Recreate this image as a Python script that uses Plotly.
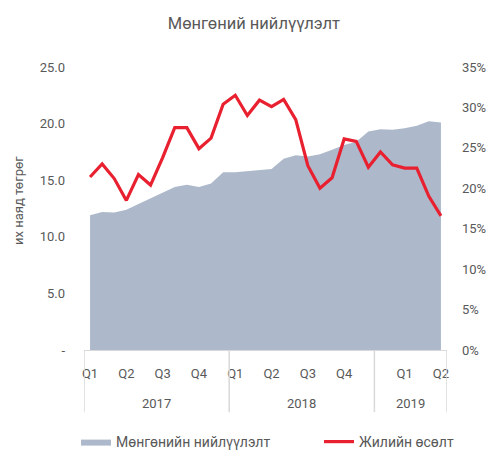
import plotly.graph_objects as go

# ---- data ----
months = [f"{y}-{m:02d}" for y in (2017, 2018, 2019) for m in range(1, 13)][:30]
money_supply = [11.9, 12.2, 12.15, 12.4, 12.9, 13.4, 13.9, 14.4, 14.6, 14.4, 14.7, 15.7,
                15.7, 15.8, 15.9, 16.0, 16.9, 17.2, 17.1, 17.3, 17.7, 18.1, 18.4, 19.3,
                19.5, 19.45, 19.6, 19.8, 20.2, 20.1]
annual_growth = [21.4, 23.0, 21.2, 18.5, 21.7, 20.4, 23.8, 27.5, 27.5, 24.9, 26.2, 30.4,
                 31.5, 29.0, 30.9, 30.1, 31.0, 28.5, 22.8, 20.0, 21.3, 26.1, 25.8, 22.6,
                 24.5, 22.9, 22.5, 22.5, 19.0, 16.6]
tick_months = ["2017-01", "2017-04", "2017-07", "2017-10",
               "2018-01", "2018-04", "2018-07", "2018-10",
               "2019-03", "2019-06"]
tick_labels = ["Q1", "Q2", "Q3", "Q4", "Q1", "Q2", "Q3", "Q4", "Q1", "Q2"]
years = ["2017", "2018", "2019"]
left_vals = [0, 5, 10, 15, 20, 25]
left_text = ["-", "5.0", "10.0", "15.0", "20.0", "25.0"]

FONT = "Roboto"
GRAY = "#595959"

fig = go.Figure()
fig.add_trace(go.Scatter(
    x=months, y=money_supply, name="Мөнгөнийн нийлүүлэлт",
    mode="lines", fill="tozeroy", fillcolor="#adb9cb",
    line=dict(width=0, color="#adb9cb"), yaxis="y", legend="legend"))
fig.add_trace(go.Scatter(
    x=months, y=annual_growth, name="Жилийн өсөлт",
    mode="lines", line=dict(width=3.2, color="#e8202f"), yaxis="y2", legend="legend2"))

# year group separators and labels
idx = {m: i for i, m in enumerate(months)}
bounds = [-0.5, 11.5, 23.5, 29.5]
for b in bounds:
    fig.add_shape(type="line", xref="x", yref="paper", x0=b, x1=b, y0=0, y1=-0.22,
                  line=dict(color="#d9d9d9", width=1.5))
for i, yr in enumerate(years):
    fig.add_annotation(x=(bounds[i] + bounds[i + 1]) / 2, y=-0.19, xref="x", yref="paper",
                       text=yr, showarrow=False, yanchor="middle",
                       font=dict(family=FONT, size=13, color=GRAY))

fig.add_annotation(x=-0.179, y=0.527, xref="paper", yref="paper", text="их наяд төгрөг",
                   textangle=-90, showarrow=False, xanchor="center", yanchor="middle",
                   font=dict(family=FONT, size=13, color=GRAY))

legend_common = dict(orientation="h", xref="container", yref="container",
                     xanchor="left", y=11 / 453, yanchor="middle",
                     font=dict(family=FONT, size=14, color=GRAY))

fig.update_layout(
    width=491, height=453,
    margin=dict(l=84, r=44, t=67, b=103, autoexpand=False),
    paper_bgcolor="white", plot_bgcolor="white",
    font=dict(family=FONT, color=GRAY, size=13),
    title=dict(text="Мөнгөний нийлүүлэлт", x=0.517, xanchor="center",
               y=1 - 23 / 453, yanchor="middle", yref="container",
               font=dict(family=FONT, size=16.5, color=GRAY)),
    xaxis=dict(type="category", categoryorder="array", categoryarray=months,
               range=[-0.5, 29.5], tickmode="array", automargin=False,
               tickvals=[idx[m] for m in tick_months], ticktext=tick_labels,
               showgrid=False, showline=True, linecolor="#d9d9d9", linewidth=1,
               ticks="", ticklabelstandoff=11, tickfont=dict(size=13, color=GRAY)),
    yaxis=dict(range=[0, 25], tickmode="array", tickvals=left_vals, ticktext=left_text,
               showgrid=False, zeroline=False, showline=False, ticks="", automargin=False,
               ticklabelstandoff=18, tickfont=dict(size=13, color=GRAY)),
    yaxis2=dict(range=[0, 35], overlaying="y", side="right", dtick=5, ticksuffix="%",
                showgrid=False, zeroline=False, showline=False, ticks="", automargin=False,
                ticklabelstandoff=14, tickfont=dict(size=13, color=GRAY)),
    legend=dict(x=76 / 491, **legend_common),
    legend2=dict(x=319 / 491, **legend_common),
    showlegend=True,
)

fig.write_html("out.html", config={"displayModeBar": False},
               post_script="document.body.style.margin='0px';")
